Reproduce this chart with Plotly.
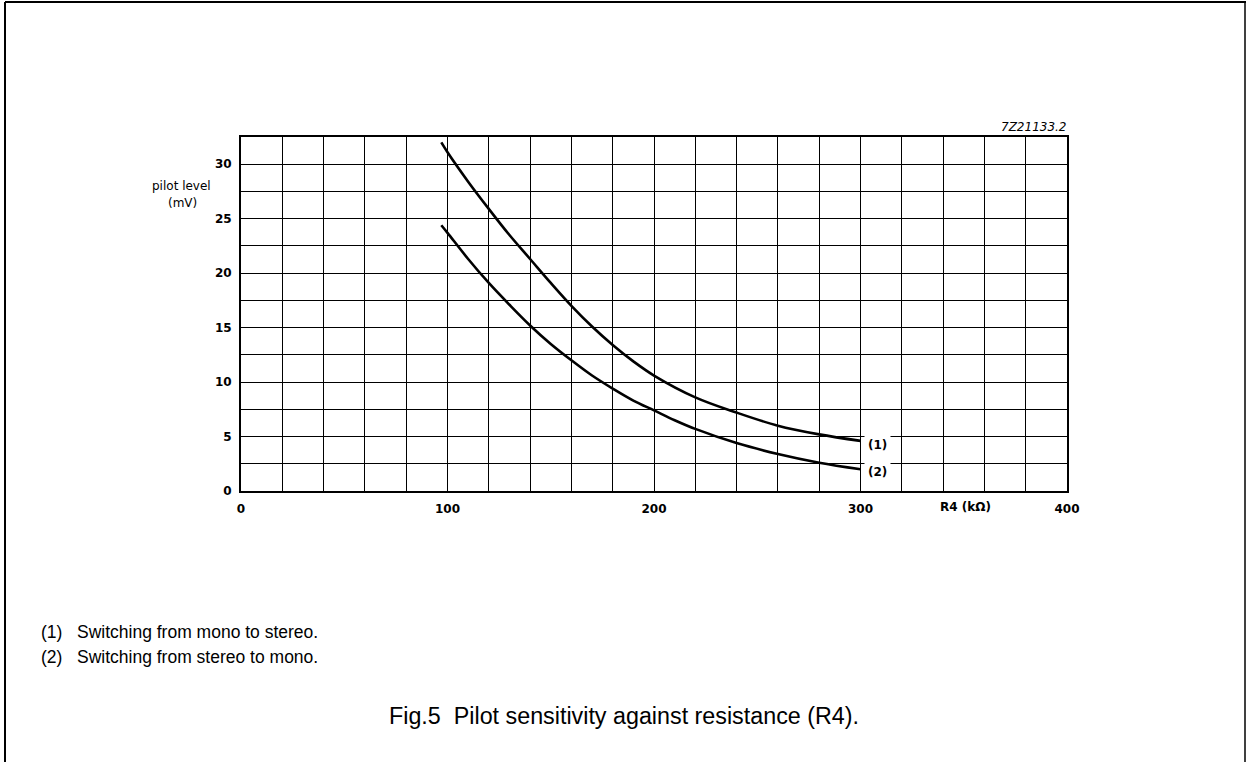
import plotly.graph_objects as go

# Data
r4_curve1 = [97, 100, 110, 120, 130, 140, 150, 160, 170, 180, 190, 200, 220, 240, 260, 280, 300]
pilot_mono_to_stereo = [32.0, 31.1, 28.4, 25.9, 23.5, 21.3, 19.1, 17.0, 15.1, 13.4, 11.9, 10.6, 8.6, 7.2, 6.0, 5.2, 4.6]
r4_curve2 = [97, 100, 110, 120, 130, 140, 150, 160, 170, 180, 190, 200, 210, 220, 240, 260, 280, 300]
pilot_stereo_to_mono = [24.4, 23.7, 21.3, 19.1, 17.1, 15.2, 13.5, 12.0, 10.6, 9.4, 8.3, 7.4, 6.5, 5.7, 4.4, 3.4, 2.6, 2.0]

x_tickvals = list(range(0, 401, 20))
x_ticktext = ["0", "", "", "", "", "100", "", "", "", "", "200", "", "", "", "", "300", "", "", "", "", "400"]
y_tickvals = [i * 2.5 for i in range(14)]
y_ticktext = ["0", "", "5", "", "10", "", "15", "", "20", "", "25", "", "30", ""]

curve_labels = ["(1)", "(2)"]
curve_label_x = [308, 308]
curve_label_y = [4.2, 1.7]

W, H = 1247, 762
L, R, T, B = 241, 180, 137, 271
FONT = "Liberation Sans, Arial, sans-serif"
TICKFONT = "DejaVu Sans, sans-serif"

fig = go.Figure()
for xs, ys in ((r4_curve1, pilot_mono_to_stereo), (r4_curve2, pilot_stereo_to_mono)):
    fig.add_trace(go.Scatter(x=xs, y=ys, mode="lines",
                             line=dict(color="black", width=2.6, shape="spline", smoothing=1.0),
                             showlegend=False, hoverinfo="skip"))

fig.update_layout(
    width=W, height=H,
    margin=dict(l=L, r=R, t=T, b=B),
    paper_bgcolor="white", plot_bgcolor="white",
    font=dict(family=FONT, color="black"),
    xaxis=dict(range=[0, 400], tickvals=x_tickvals, ticktext=x_ticktext,
               showgrid=True, gridcolor="black", gridwidth=1.3,
               showline=True, linecolor="black", linewidth=2, mirror=True,
               zeroline=False, ticks="", ticklabelstandoff=6,
               tickfont=dict(size=12, family=TICKFONT, weight="bold")),
    yaxis=dict(range=[0, 32.5], tickvals=y_tickvals, ticktext=y_ticktext,
               showgrid=True, gridcolor="black", gridwidth=1.3,
               showline=True, linecolor="black", linewidth=2, mirror=True,
               zeroline=False, ticks="", ticklabelstandoff=5,
               tickfont=dict(size=12, family=TICKFONT, weight="bold")),
)

for txt, xv, yv in zip(curve_labels, curve_label_x, curve_label_y):
    fig.add_annotation(x=xv, y=yv, xref="x", yref="y", text=txt, showarrow=False,
                       font=dict(size=12, family=TICKFONT, weight="bold"),
                       bgcolor="white", borderpad=3)

PW, PH = W - L - R, H - T - B

def cont_ann(text, x, y, size, family=FONT, xanchor="center", yanchor="middle", **kw):
    fig.add_annotation(x=(x - L) / PW, y=(H - B - y) / PH, xref="paper", yref="paper",
                       text=text, showarrow=False, xanchor=xanchor, yanchor=yanchor,
                       font=dict(size=size, family=family, color="black", **kw))

cont_ann("pilot level", 181, 186, 12, family=TICKFONT)
cont_ann("(mV)", 182, 203, 12, family=TICKFONT)
cont_ann("R4 (kΩ)", 965, 507, 12, family=TICKFONT, weight="bold")
cont_ann("7Z21133.2", 1068, 136, 12, family=TICKFONT, xanchor="right", yanchor="bottom", style="italic")
cont_ann("(1)&nbsp;&nbsp;&nbsp;Switching from mono to stereo.", 39, 632, 17.5, xanchor="left")
cont_ann("(2)&nbsp;&nbsp;&nbsp;Switching from stereo to mono.", 39, 657, 17.5, xanchor="left")
cont_ann("Fig.5&nbsp;&nbsp;Pilot sensitivity against resistance (R4).", 624, 716, 23.3)

# frame around the page (left, top, right)
for x0, y0, x1, y1, w in [(5, 2, 5, 762, 2), (5, 2, 1246, 2, 2), (1245, 2, 1245, 762, 1.5)]:
    fig.add_shape(type="line", xref="paper", yref="paper",
                  x0=(x0 - L) / PW, x1=(x1 - L) / PW,
                  y0=(H - B - y0) / PH, y1=(H - B - y1) / PH,
                  line=dict(color="black", width=w))

fig.write_html("out.html", config={"displayModeBar": False},
               post_script="document.body.style.margin='0px';")
